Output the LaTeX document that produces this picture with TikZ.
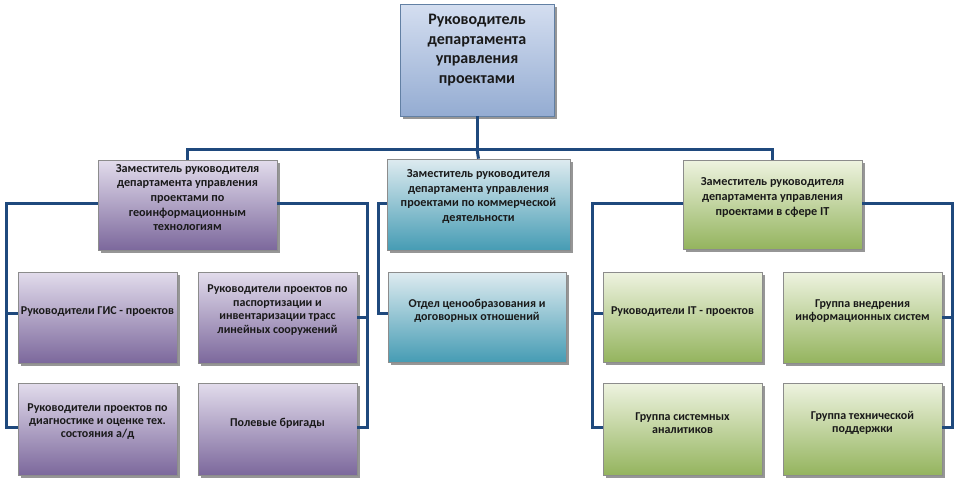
\documentclass[tikz,border=0pt]{standalone}
\usepackage{fontspec}
\setmainfont{Carlito}
\usetikzlibrary{shadows,calc}
\definecolor{conncol}{RGB}{31,73,125}
\definecolor{purT}{RGB}{226,220,236}
\definecolor{purB}{RGB}{124,104,156}
\definecolor{bluT}{RGB}{222,235,240}
\definecolor{bluB}{RGB}{70,156,180}
\definecolor{grnT}{RGB}{238,243,224}
\definecolor{grnB}{RGB}{148,180,94}
\definecolor{topT}{RGB}{212,222,240}
\definecolor{topB}{RGB}{148,172,210}
\definecolor{txtcol}{RGB}{25,25,25}
\tikzset{
  box/.style={rectangle, draw=black!45, line width=0.6pt, inner sep=0pt,
    drop shadow={shadow xshift=2.5pt, shadow yshift=-2.5pt, fill=black!75, opacity=0.55}},
  purbox/.style={box, top color=purT, bottom color=purB},
  blubox/.style={box, top color=bluT, bottom color=bluB},
  grnbox/.style={box, top color=grnT, bottom color=grnB},
  topbox/.style={box, top color=topT, bottom color=topB, draw=conncol!70},
  lbl/.style={align=center, text=txtcol, font=\bfseries\fontsize{12}{13.4}\selectfont, inner sep=0pt},
  dlbl/.style={align=center, text=txtcol, font=\bfseries\fontsize{12.2}{14.6}\selectfont, inner sep=0pt},
  conn/.style={draw=conncol, line width=3pt}
}
\begin{document}
\begin{tikzpicture}[x=1pt,y=-1pt]
\useasboundingbox (0,0) rectangle (960,482);
% boxes
\node[topbox, minimum width=154pt, minimum height=112pt] (top) at (477,60) {};
\node[purbox, minimum width=179pt, minimum height=90pt] (dgeo) at (187.5,205) {};
\node[blubox, minimum width=183pt, minimum height=91pt] (dcom) at (478.5,204.5) {};
\node[grnbox, minimum width=179pt, minimum height=89pt] (dit) at (772.5,204.5) {};
\node[purbox, minimum width=159pt, minimum height=91pt] (gis) at (97.5,317.5) {};
\node[purbox, minimum width=159pt, minimum height=91pt] (pasp) at (277.5,317.5) {};
\node[purbox, minimum width=159pt, minimum height=92pt] (diag) at (97.5,429) {};
\node[purbox, minimum width=159pt, minimum height=92pt] (pol) at (277.5,429) {};
\node[blubox, minimum width=178pt, minimum height=90pt] (otd) at (477,317) {};
\node[grnbox, minimum width=159pt, minimum height=90pt] (itp) at (682.5,317) {};
\node[grnbox, minimum width=159pt, minimum height=91pt] (vned) at (862.5,317.5) {};
\node[grnbox, minimum width=159pt, minimum height=92pt] (sys) at (682.5,429) {};
\node[grnbox, minimum width=159pt, minimum height=92pt] (tech) at (862.5,429) {};
% texts
\node[align=center, text=txtcol, font=\bfseries\fontsize{16}{19.5}\selectfont, inner sep=0pt] at (477,50) {Руководитель\\департамента\\управления\\проектами};
\node[dlbl] at (187.5,197.5) {Заместитель руководителя\\департамента управления\\проектами по\\геоинформационным\\технологиям};
\node[dlbl] at (478.5,196.5) {Заместитель руководителя\\департамента управления\\проектами по коммерческой\\деятельности};
\node[dlbl] at (772.5,197.5) {Заместитель руководителя\\департамента управления\\проектами в сфере IT};
\node[lbl] at (97.5,312) {Руководители ГИС - проектов};
\node[lbl] at (277.5,310) {Руководители проектов по\\паспортизации и\\инвентаризации трасс\\линейных сооружений};
\node[lbl] at (97.5,421.5) {Руководители проектов по\\диагностике и оценке тех.\\состояния а/д};
\node[lbl] at (277.5,423) {Полевые бригады};
\node[lbl] at (477,311) {Отдел ценообразования и\\договорных отношений};
\node[lbl] at (682.5,312) {Руководители IT - проектов};
\node[lbl] at (862.5,311) {Группа внедрения\\информационных систем};
\node[lbl] at (682.5,423) {Группа системных\\аналитиков};
\node[lbl] at (862.5,423) {Группа технической\\поддержки};
% connectors
\coordinate (bar) at (477,149);
\draw[conn] (top.south) -- (bar);
\draw[conn] (dgeo.north) |- (bar) -| (dit.north);
\draw[conn] (bar) -- (dcom.north);
% left group
\draw[conn] (dgeo.west |- 0,203) -| (6,427) -- (diag.west |- 0,427);
\draw[conn] (6,313) -- (gis.west |- 0,313);
\draw[conn] (dgeo.east |- 0,203) -| (367,427) -- (pol.east |- 0,427);
\draw[conn] (367,317) -- (pasp.east |- 0,317);
% middle
\draw[conn] (dcom.west |- 0,203) -| (378,313) -- (otd.west |- 0,313);
% right group
\draw[conn] (dit.west |- 0,203) -| (592,427) -- (sys.west |- 0,427);
\draw[conn] (592,313) -- (itp.west |- 0,313);
\draw[conn] (dit.east |- 0,203) -| (952,427) -- (tech.east |- 0,427);
\draw[conn] (952,317) -- (vned.east |- 0,317);
\end{tikzpicture}
\end{document}
